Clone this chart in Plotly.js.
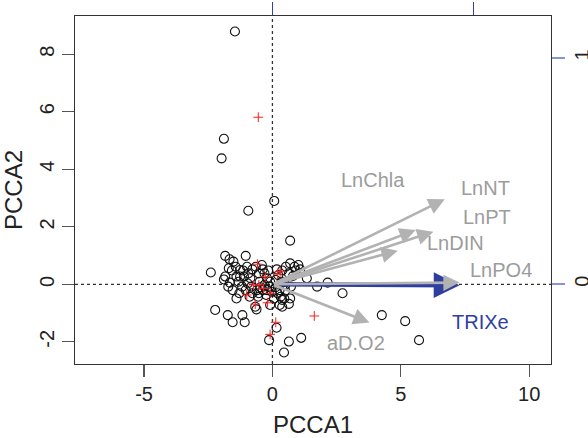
<!DOCTYPE html>
<html>
<head>
<meta charset="utf-8">
<script src="https://cdn.plot.ly/plotly-3.0.1.min.js"></script>
<style>html,body{margin:0;padding:0;background:#fff;}#chart{width:588px;height:438px;}</style>
</head>
<body>
<div id="chart"></div>
<script>
// Site scores (black open circles)
const siteX = [-1.46,-1.89,-1.98,0.07,-0.94,0.69,-2.40,-1.84,-1.04,2.15,1.74,2.73,4.26,5.17,5.71,-2.23,-1.74,-1.55,-1.17,-1.08,0.16,-0.13,0.64,1.12,0.45,
  -1.52,-1.67,-1.84,-1.89,-1.70,-1.58,-1.43,-1.66,-1.55,-1.40,-1.29,-1.18,-0.99,-1.14,-0.94,-0.86,-0.78,-0.65,-0.41,-0.38,-0.53,-0.31,-0.16,-0.96,-0.82,-0.60,-0.53,-0.38,-0.56,-0.67,-0.62,-0.09,0.06,0.20,0.28,0.32,0.38,0.46,0.28,0.38,0.64,0.69,0.50,-0.21,-0.09,0.13,0.23,0.38,0.17,0.52,0.69,0.86,1.01,1.08,0.91,0.64,0.80,1.34,-0.50,-0.31,-0.21,-0.46,-1.26,-1.11,-1.40,-1.32,-1.04,-0.89,-0.78,-0.24,-0.02,-0.12,0.50,0.72,0.13,0.35,-1.72,-1.26];
const siteY = [8.79,5.06,4.38,2.90,2.56,1.52,0.41,0.99,0.99,0.06,-0.08,-0.31,-1.07,-1.28,-1.94,-0.89,-1.07,-1.32,-1.07,-1.32,-1.51,-1.94,-1.99,-1.86,-2.37,
  0.79,0.87,0.27,0.17,0.56,0.48,0.61,0.06,-0.20,-0.49,-0.31,-0.08,0.61,0.48,0.38,0.21,0.52,0.61,0.67,0.52,0.38,0.38,0.48,0.03,-0.08,-0.20,-0.31,-0.20,-0.43,-0.78,-0.87,-0.72,-0.49,-0.31,-0.20,-0.43,-0.54,-0.49,-0.72,-0.78,-0.68,-0.49,-0.22,0.21,0.09,0.15,0.32,0.48,0.52,0.61,0.73,0.61,0.67,0.52,0.48,0.38,0.29,0.21,0.09,-0.02,-0.20,-0.10,0.27,0.27,0.27,0.09,-0.20,-0.43,-0.31,-0.37,-0.26,-0.08,-0.02,-0.08,-0.10,0.09,-0.08,0.50];
// Supplementary points (red crosses)
const redX = [-0.55,1.63,0.13,-0.09,-0.58,0.30,-0.35,-0.74,-0.28,-1.00,-0.19,-0.67,0.20,-0.53,-0.09];
const redY = [5.81,-1.10,-1.32,-1.74,0.70,0.44,-0.14,-0.02,0.26,-0.37,-0.64,-0.69,0.36,-0.02,-0.31];
// Environmental vectors (grey arrows)
const envNames = ['LnChla','LnNT','LnPT','LnDIN','LnPO4','aD.O2'];
const envX = [4.88,6.71,5.58,6.27,7.29,3.78];
const envY = [1.17,2.96,1.89,1.83,0.06,-1.33];
const envLabelX = [3.93,8.31,8.34,7.14,8.92,3.24];
const envLabelY = [3.63,3.34,2.35,1.45,0.50,-2.03];
// Response vector (blue arrow)
const respName = 'TRIXe';
const respX = 7.29, respY = -0.03;
const respLabelX = 8.09, respLabelY = -1.30;
// Axis ticks
const xTicks = [-5,0,5,10];
const yTicks = [-2,0,2,4,6,8];
const topTicks = [0,1];
const rightTicks = [0,1];

const grey = '#b2b2b2', greyText = '#9c9c9c', blue = '#2f3f9f';
const traces = [
  {x: siteX, y: siteY, type:'scatter', mode:'markers', hoverinfo:'skip',
   marker:{symbol:'circle-open', size:9, color:'#111', line:{width:1.1, color:'#111'}}},
  {x: redX, y: redY, type:'scatter', mode:'markers', hoverinfo:'skip',
   marker:{symbol:'cross-thin-open', size:7, color:'#ff2020', line:{width:1, color:'#ff2020'}}},
  {x: topTicks, y: rightTicks, xaxis:'x2', yaxis:'y2', type:'scatter', mode:'markers', hoverinfo:'skip',
   marker:{opacity:0}}
];

const annotations = [];
annotations.push({x: respX, y: respY, ax: 0, ay: 0, xref:'x', yref:'y', axref:'x', ayref:'y',
  text:'', showarrow:true, arrowhead:2, arrowsize:1.15, arrowwidth:4.5, arrowcolor: blue});
envNames.forEach((n,i)=>{
  annotations.push({x: envX[i], y: envY[i], ax: 0, ay: 0, xref:'x', yref:'y', axref:'x', ayref:'y',
    text:'', showarrow:true, arrowhead:2, arrowsize:1.25, arrowwidth:2.6, arrowcolor: grey});
});
envNames.forEach((n,i)=>{
  annotations.push({x: envLabelX[i], y: envLabelY[i], xref:'x', yref:'y', text:n, showarrow:false,
    font:{size:20, color: greyText}});
});
annotations.push({x: respLabelX, y: respLabelY, xref:'x', yref:'y', text: respName, showarrow:false,
  font:{size:20, color: blue}});

const layout = {
  width:588, height:438,
  margin:{l:75, r:37, t:16, b:74},
  paper_bgcolor:'#fff', plot_bgcolor:'#fff',
  font:{family:'Liberation Sans, Arial, Helvetica, sans-serif', size:20, color:'#222'},
  showlegend:false,
  xaxis:{range:[-7.69,10.85], tickvals:xTicks, ticktext:xTicks.map(String), ticks:'outside', ticklen:12, tickwidth:1.2,
    tickcolor:'#555', showgrid:false, zeroline:false, showline:true, linecolor:'#333', linewidth:1.2, mirror:true,
    title:{text:'PCCA1', standoff:12}},
  yaxis:{range:[-2.77,9.33], tickvals:yTicks, ticktext:yTicks.map(String), tickangle:-90, ticks:'outside', ticklen:12, tickwidth:1.2,
    tickcolor:'#555', showgrid:false, zeroline:false, showline:true, linecolor:'#333', linewidth:1.2, mirror:true,
    title:{text:'PCCA2', standoff:7}},
  xaxis2:{overlaying:'x', side:'top', range:[-0.9816,1.385], tickvals:topTicks, ticks:'outside', ticklen:13, tickwidth:1.2,
    tickcolor:'#3040b0', showticklabels:false, showgrid:false, zeroline:false, showline:false},
  yaxis2:{overlaying:'y', side:'right', range:[-0.3535,1.1856], tickvals:rightTicks, ticktext:rightTicks.map(String), tickangle:-90,
    ticks:'outside', ticklen:13, tickwidth:1.2, tickcolor:'#8595d5', showgrid:false, zeroline:false, showline:false},
  shapes:[
    {type:'line', xref:'paper', yref:'y', x0:0, x1:1, y0:0, y1:0, line:{color:'#333', width:1.3, dash:'dot'}, layer:'below'},
    {type:'line', xref:'x', yref:'paper', x0:0, x1:0, y0:0, y1:1, line:{color:'#333', width:1.3, dash:'dot'}, layer:'below'}
  ],
  annotations: annotations
};
Plotly.newPlot('chart', traces, layout, {staticPlot:true, displayModeBar:false});
</script>
</body>
</html>
